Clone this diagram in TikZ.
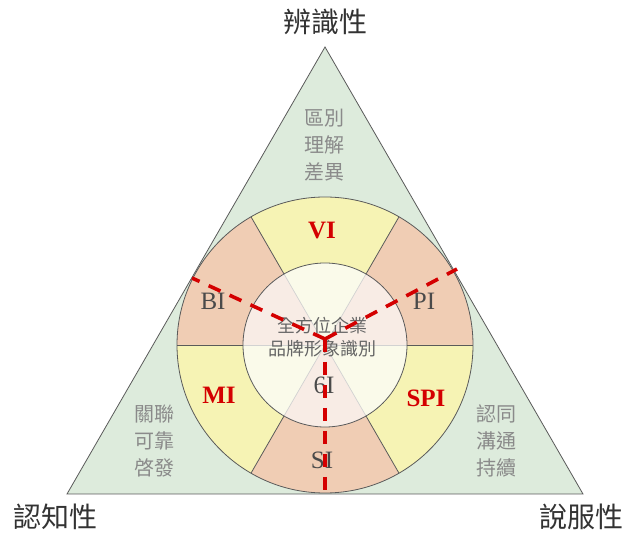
\documentclass[tikz,border=0pt]{standalone}
\usepackage{fontspec}
\setmainfont{Liberation Serif}
\newfontfamily\cjk{Noto Sans CJK TC}
\usetikzlibrary{calc}
\definecolor{trifill}{HTML}{DDEBDC}
\definecolor{outline}{HTML}{5A5A5A}
\definecolor{ringyel}{HTML}{F6F3B4}
\definecolor{ringsal}{HTML}{F0CDB4}
\definecolor{inyel}{HTML}{FAFAEA}
\definecolor{inpink}{HTML}{F8ECE5}
\definecolor{softline}{HTML}{D2D2D2}
\definecolor{graytext}{HTML}{8A8A8A}
\definecolor{darktext}{HTML}{333333}
\definecolor{labelgray}{HTML}{4A4A4A}
\definecolor{redline}{HTML}{D40000}
\tikzset{
  title/.style={font=\cjk\fontsize{28}{32}\selectfont, text=darktext},
  sidetext/.style={font=\cjk\fontsize{20}{27}\selectfont, text=graytext, align=center},
  centertext/.style={font=\cjk\fontsize{18}{23}\selectfont, text=labelgray!85, align=center},
  redlabel/.style={font=\fontsize{25}{27}\selectfont\bfseries, text=redline},
  graylabel/.style={font=\fontsize{25}{27}\selectfont, text=labelgray},
  reddash/.style={draw=redline, line width=3.6pt, dash pattern=on 13pt off 10pt},
  edge/.style={draw=outline, line width=0.8pt}
}
\begin{document}
\begin{tikzpicture}[x=1pt,y=1pt]
\useasboundingbox (0,0) rectangle (624,533);
\coordinate (C) at (325,188);
\coordinate (T) at (325,486);
\coordinate (L) at (67,39);
\coordinate (R) at (583,39);
% triangle
\filldraw[fill=trifill, edge] (T) -- (L) -- (R) -- cycle;
% outer ring sectors
\foreach \a/\col in {0/ringsal,60/ringyel,120/ringsal,180/ringyel,240/ringsal,300/ringyel}{
  \fill[\col] ($(C)+(\a:148)$) arc[start angle=\a, end angle=\a+60, radius=148]
     -- ($(C)+(\a+60:82)$) arc[start angle=\a+60, end angle=\a, radius=82] -- cycle;
}
% inner sectors
\foreach \a/\col in {0/inpink,60/inyel,120/inpink,180/inyel,240/inpink,300/inyel}{
  \fill[\col] (C) -- ($(C)+(\a:82)$) arc[start angle=\a, end angle=\a+60, radius=82] -- cycle;
}
% dividing lines
\foreach \a in {0,60,...,300}{
  \draw[softline, line width=0.7pt] (C) -- ($(C)+(\a:82)$);
  \draw[edge] ($(C)+(\a:82)$) -- ($(C)+(\a:148)$);
}
\draw[edge] (C) circle[radius=148];
\draw[edge] (C) circle[radius=82];
% titles
\node[title] (t1) at (325,511) {辨識性};
\node[title] (t2) at (55,16) {認知性};
\node[title] (t3) at (581,16) {說服性};
% side texts
\node[sidetext] (s1) at (324,388) {區別\\理解\\差異};
\node[sidetext] (s2) at (154,92) {關聯\\可靠\\啓發};
\node[sidetext] (s3) at (496,92) {認同\\溝通\\持續};
% center text
\node[centertext] (ct) at (322,196) {全方位企業\\品牌形象識別};
% labels
\node[redlabel] (vi) at (322,302) {VI};
\node[redlabel] (mi) at (219,138) {MI};
\node[redlabel] (spi) at (426,135) {SPI};
\node[graylabel] (bi) at (213,232) {BI};
\node[graylabel] (pi) at (424,232) {PI};
\node[graylabel] (si) at (322,73) {SI};
\node[graylabel] (ci) at (324,148) {6I};
% red dashed Y
\coordinate (J) at (325,194);
\coordinate (DL) at (192,255);
\coordinate (DR) at (457,264);
\coordinate (DB) at (325,40);
\draw[reddash] (J) -- (DL);
\draw[reddash] (J) -- (DR);
\draw[reddash] (J) -- (DB);
\end{tikzpicture}
\end{document}
